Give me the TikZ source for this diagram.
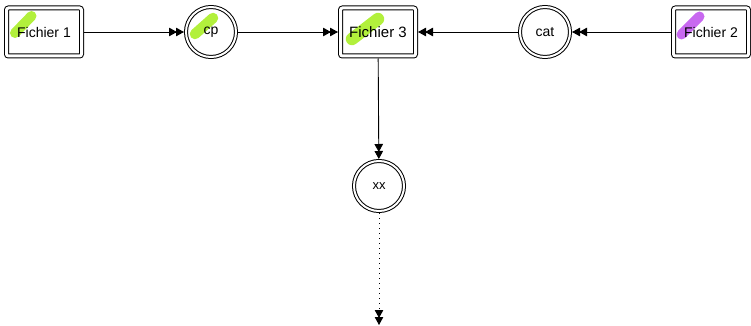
\documentclass[tikz,border=0pt]{standalone}
\usepackage{fontspec}
\setmainfont{Liberation Sans}
\usetikzlibrary{arrows.meta,calc,backgrounds}

\definecolor{marklime}{RGB}{178,240,60}
\definecolor{markviolet}{RGB}{200,104,240}

\tikzset{
  filebox/.style={draw, line width=1pt, double, double distance=3pt,
    rounded corners=2pt, minimum width=75pt, minimum height=48pt,
    inner sep=0pt, outer sep=2.5pt, font=\fontsize{14}{16}\selectfont},
  cmd/.style={draw, line width=1pt, double, double distance=2pt, circle,
    minimum size=50pt, inner sep=0pt, outer sep=2pt,
    font=\fontsize{14}{16}\selectfont},
  flow/.style={line width=0.9pt,
    -{Triangle[length=8pt,width=8.5pt,sep=-1pt]Triangle[length=8pt,width=8.5pt]}},
  marker/.style={line cap=round},
}

\begin{document}
\begin{tikzpicture}[x=1pt,y=-1pt]
  \useasboundingbox (0,0) rectangle (751,326);

  % files and commands
  \node[filebox] (f1) at (44,32) {Fichier 1};
  \node[cmd] (cp) at (211,32) {cp};
  \node[filebox, font=\fontsize{15}{17}\selectfont] (f3) at (378,32) {Fichier 3};
  \node[cmd] (cat) at (545,32) {cat};
  \node[filebox] (f2) at (711,32) {Fichier 2};
  \node[cmd, font=\fontsize{13}{15}\selectfont] (xx) at (379,186) {xx};
  \coordinate (out) at (379,325);

  % highlighter strokes behind the labels
  \begin{pgfonlayer}{background}
    \draw[marker, marklime, line width=10pt]
      ($(f1)+(-29,1)$) -- ($(f1)+(-12.5,-16)$);
    \draw[marker, marklime, line width=10.5pt]
      ($(cp)+(-16,2)$) -- ($(cp)+(2,-14)$);
    \draw[marker, marklime, line width=12.5pt]
      ($(f3)+(-26,7)$) -- ($(f3)+(0,-13)$);
    \draw[marker, markviolet, line width=10pt]
      ($(f2)+(-29.5,2.5)$) -- ($(f2)+(-11.5,-15.5)$);
  \end{pgfonlayer}

  % data flow
  \draw[flow] (f1) -- (cp);
  \draw[flow] (cp) -- (f3);
  \draw[flow] (f2) -- (cat);
  \draw[flow] (cat) -- (f3);
  \draw[flow] (f3) -- (xx);
  \draw[flow, dash pattern=on 1pt off 4pt] (xx) -- (out);
\end{tikzpicture}
\end{document}
